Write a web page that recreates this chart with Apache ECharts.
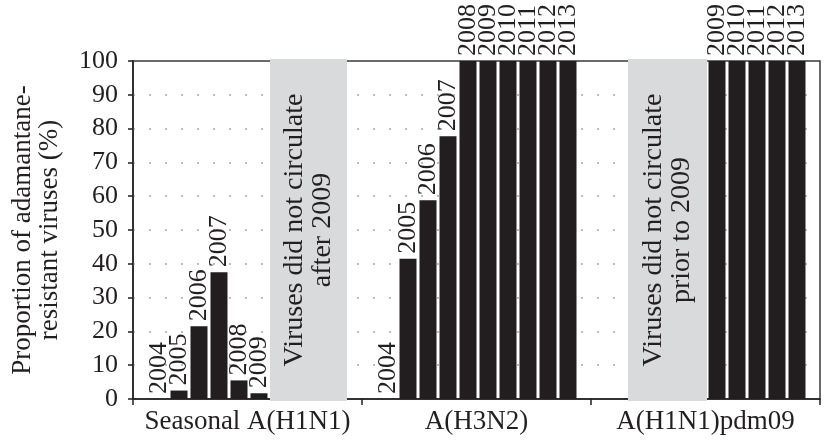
<!DOCTYPE html>
<html><head><meta charset="utf-8">
<script src="https://cdn.jsdelivr.net/npm/echarts@6/dist/echarts.min.js"></script>
<style>html,body{margin:0;padding:0;background:#fff}#c{width:827px;height:447px}</style>
</head><body><div id="c"></div>
<script>
// ---- data ----
const groupNames = ['Seasonal A(H1N1)', 'A(H3N2)', 'A(H1N1)pdm09'];
const h1n1Years = ['2004', '2005', '2006', '2007', '2008', '2009'];
const h1n1Values = [0, 2.5, 21.5, 37.5, 5.5, 1.7];
const h3n2Years = ['2004', '2005', '2006', '2007', '2008', '2009', '2010', '2011', '2012', '2013'];
const h3n2Values = [0, 41.5, 58.8, 77.7, 100, 100, 100, 100, 100, 100];
const pdmYears = ['2009', '2010', '2011', '2012', '2013'];
const pdmValues = [100, 100, 100, 100, 100];
const noteH1N1 = 'Viruses did not circulate\nafter 2009';
const notePdm = 'Viruses did not circulate\nprior to 2009';
const yMin = 0, yMax = 100, yStep = 10;
const yTitle = 'Proportion of adamantane-\nresistant viruses (%)';

// ---- styles ----
const FONT = "'Liberation Serif', 'Times New Roman', serif";
const INK = '#231f20';
const BAR = '#221e1f';
const GREY = '#d9dadc';

const chart = echarts.init(document.getElementById('c'), null, {renderer: 'canvas'});

const grids = [
  {left: 133, right: 7, top: 61, bottom: 48, show: true, borderColor: '#3a3a3a', borderWidth: 1.5, backgroundColor: 'transparent'},
  {left: 149, width: 120, top: 61, bottom: 48},
  {left: 270, width: 77, top: 59, bottom: 46},
  {left: 378, width: 200, top: 61, bottom: 48},
  {left: 628, width: 79, top: 59, bottom: 46},
  {left: 707, width: 100, top: 61, bottom: 48}
];

const hiddenX = (gi, data) => ({type: 'category', gridIndex: gi, data: data, show: false, boundaryGap: true});
const hiddenY = (gi) => ({type: 'value', gridIndex: gi, min: yMin, max: yMax, show: false, splitLine: {show: false}});

const yearLabel = {
  show: true, position: 'top', rotate: 90, align: 'left', verticalAlign: 'middle',
  distance: 5, formatter: '{b}', fontSize: 26, fontFamily: FONT, color: INK
};
const noteLabel = (txt) => ({
  show: true, position: 'inside', rotate: 90, align: 'center', verticalAlign: 'middle',
  formatter: txt, fontSize: 28, lineHeight: 28, fontFamily: FONT, color: INK
});

const barSeries = (gi, values) => ({
  type: 'bar', xAxisIndex: gi, yAxisIndex: gi, data: values, barWidth: 17,
  itemStyle: {color: BAR}, label: yearLabel, silent: true, animation: false
});
const greySeries = (gi, txt) => ({
  type: 'bar', xAxisIndex: gi, yAxisIndex: gi, data: [yMax], barWidth: '100%',
  itemStyle: {color: GREY}, label: noteLabel(txt), silent: true, animation: false
});

const option = {
  backgroundColor: '#fff',
  animation: false,
  grid: grids,
  xAxis: [
    {
      type: 'category', gridIndex: 0, data: groupNames, boundaryGap: true,
      axisLine: {show: true, lineStyle: {color: INK, width: 1.5}},
      axisTick: {show: true, inside: false, length: 6, alignWithLabel: false, interval: 0, lineStyle: {color: INK, width: 1.5}},
      axisLabel: {interval: 0, hideOverlap: false, fontSize: 27, fontFamily: FONT, color: INK, margin: 9},
      splitLine: {show: false}
    },
    hiddenX(1, h1n1Years),
    hiddenX(2, ['']),
    hiddenX(3, h3n2Years),
    hiddenX(4, ['']),
    hiddenX(5, pdmYears)
  ],
  yAxis: [
    {
      type: 'value', gridIndex: 0, min: yMin, max: yMax, interval: yStep,
      name: yTitle, nameLocation: 'middle', nameGap: 70,
      nameTextStyle: {fontSize: 27, lineHeight: 27, fontFamily: FONT, color: INK},
      axisLine: {show: true, lineStyle: {color: INK, width: 1.5}},
      axisTick: {show: true, inside: false, length: 5, lineStyle: {color: INK, width: 1.5}},
      axisLabel: {fontSize: 26, fontFamily: FONT, color: INK, margin: 15},
      splitLine: {show: true, showMinLine: false, showMaxLine: false,
        lineStyle: {type: [2, 14], color: '#bdbdbd', width: 2}}
    },
    hiddenY(1), hiddenY(2), hiddenY(3), hiddenY(4), hiddenY(5)
  ],
  series: [
    barSeries(1, h1n1Values),
    greySeries(2, noteH1N1),
    barSeries(3, h3n2Values),
    greySeries(4, notePdm),
    barSeries(5, pdmValues)
  ]
};
chart.setOption(option);
</script>
</body></html>
